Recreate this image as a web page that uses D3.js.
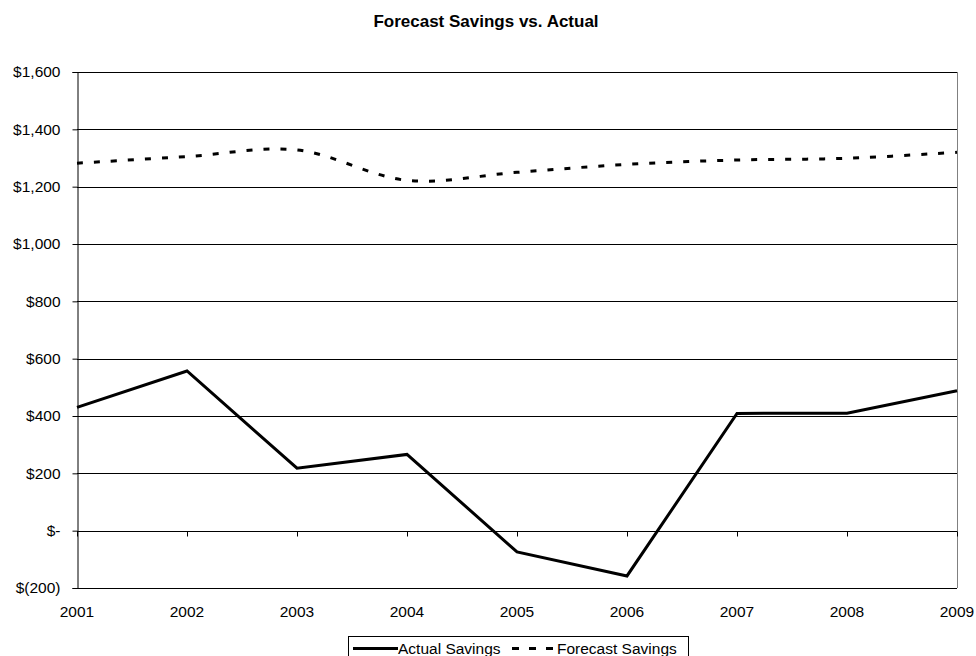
<!DOCTYPE html>
<html>
<head>
<meta charset="utf-8">
<script src="https://cdn.jsdelivr.net/npm/d3@7"></script>
<style>
  body { margin: 0; background: #fff; }
  svg text { font-family: Arial, "Liberation Sans", sans-serif; fill: #000; }
</style>
</head>
<body>
<div id="chart-area"></div>
<script>
// data
const years    = [2001, 2002, 2003, 2004, 2005, 2006, 2007, 2008, 2009];
const actual   = [430, 557, 218, 266, -74, -158, 409, 410, 488];
const forecast = [1282, 1305, 1328, 1222, 1250, 1278, 1293, 1299, 1320];
const yTicks   = [-200, 0, 200, 400, 600, 800, 1000, 1200, 1400, 1600];
const seriesNames = ["Actual Savings", "Forecast Savings"];

let width = 976, height = 656;
let margin = {left: 77, right: 19, top: 72, bottom: 68};

let svg = d3.select("#chart-area").append("svg")
  .attr("width", width).attr("height", height);

// scales
let x = d3.scalePoint()
  .domain(years)
  .range([margin.left, width - margin.right]);

let y = d3.scaleLinear()
  .domain([-200, 1600])
  .range([height - margin.bottom, margin.top]);

// money format like Excel accounting
function money(v) {
  if (v === 0) return "$-";
  let s = d3.format(",")(Math.abs(v));
  return v < 0 ? "$(" + s + ")" : "$" + s;
}

// gridlines
svg.append("g")
  .selectAll("line")
  .data(yTicks)
  .join("line")
  .attr("x1", margin.left).attr("x2", width - margin.right)
  .attr("y1", d => Math.round(y(d)) + 0.5).attr("y2", d => Math.round(y(d)) + 0.5)
  .attr("stroke", "#000").attr("stroke-width", 1);

// right border
svg.append("line")
  .attr("x1", width - margin.right + 0.5).attr("x2", width - margin.right + 0.5)
  .attr("y1", y(1600)).attr("y2", y(-200))
  .attr("stroke", "#808080");

// y axis
let yAxis = d3.axisLeft(y).tickValues(yTicks).tickSize(5).tickPadding(12).tickFormat(money);
svg.append("g")
  .attr("transform", "translate(" + (margin.left + 0.5) + ",0)")
  .call(yAxis)
  .call(g => g.selectAll("text").style("font-size", "15.5px"))
  .call(g => g.selectAll("line, path").attr("stroke", "#000"));

// x axis ticks sit on the zero line
let xAxis = d3.axisBottom(x).tickSize(5).tickFormat("");
svg.append("g")
  .attr("transform", "translate(0," + (Math.round(y(0)) + 0.5) + ")")
  .call(xAxis)
  .call(g => g.select(".domain").remove())
  .call(g => g.selectAll("line").attr("stroke", "#000"));

// x labels at bottom
svg.append("g")
  .selectAll("text")
  .data(years)
  .join("text")
  .attr("x", d => x(d))
  .attr("y", y(-200) + 29)
  .attr("text-anchor", "middle")
  .style("font-size", "15.5px")
  .text(d => d);

// lines
let actualLine = d3.line()
  .x((d, i) => x(years[i]))
  .y(d => y(d));

let forecastLine = d3.line()
  .x((d, i) => x(years[i]))
  .y(d => y(d))
  .curve(d3.curveCatmullRom.alpha(0.5));

svg.append("path")
  .datum(actual)
  .attr("d", actualLine)
  .attr("fill", "none")
  .attr("stroke", "#000")
  .attr("stroke-width", 3)
  .attr("stroke-linejoin", "miter");

svg.append("path")
  .datum(forecast)
  .attr("d", forecastLine)
  .attr("fill", "none")
  .attr("stroke", "#000")
  .attr("stroke-width", 3)
  .attr("stroke-dasharray", "6,11");

// title
svg.append("text")
  .attr("x", 486)
  .attr("y", 27)
  .attr("text-anchor", "middle")
  .style("font-size", "17px")
  .style("font-weight", "bold")
  .text("Forecast Savings vs. Actual");

// legend
let legend = svg.append("g").attr("transform", "translate(348,636)");
legend.append("rect")
  .attr("x", 0.5).attr("y", 0.5)
  .attr("width", 340).attr("height", 30)
  .attr("fill", "#fff").attr("stroke", "#000");

legend.append("line")
  .attr("x1", 5).attr("x2", 50).attr("y1", 12.5).attr("y2", 12.5)
  .attr("stroke", "#000").attr("stroke-width", 3);
legend.append("text")
  .attr("x", 50).attr("y", 18)
  .style("font-size", "15.5px")
  .text(seriesNames[0]);

legend.append("line")
  .attr("x1", 164).attr("x2", 205).attr("y1", 12.5).attr("y2", 12.5)
  .attr("stroke", "#000").attr("stroke-width", 3)
  .attr("stroke-dasharray", "7,10");
legend.append("text")
  .attr("x", 209).attr("y", 18)
  .style("font-size", "15.5px")
  .text(seriesNames[1]);
</script>
</body>
</html>
